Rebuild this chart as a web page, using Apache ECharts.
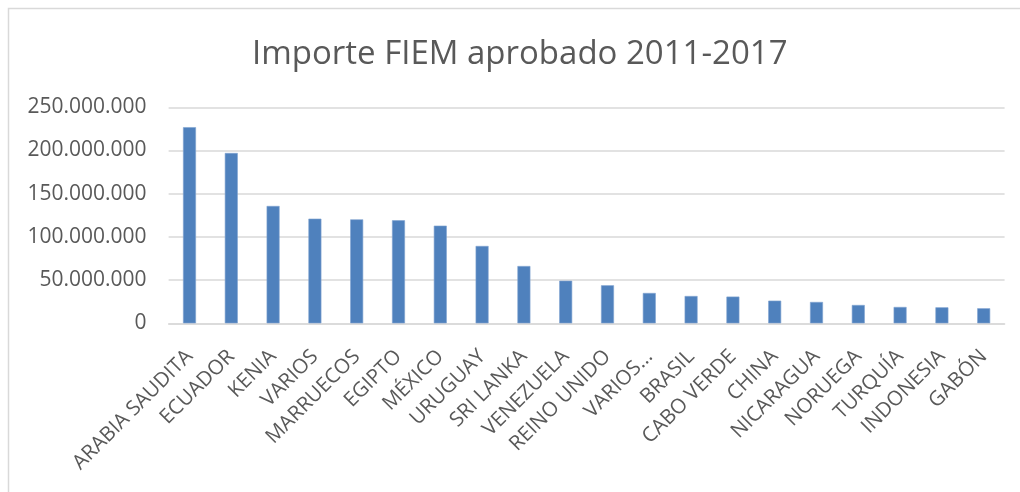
<!DOCTYPE html>
<html>
<head>
<meta charset="utf-8">
<script src="https://cdn.jsdelivr.net/npm/echarts@6/dist/echarts.min.js"></script>
<style>html,body{margin:0;padding:0;background:#fff}#c{width:1020px;height:492px}</style>
</head>
<body>
<div id="c"></div>
<script>
const categories = ["ARABIA SAUDITA","ECUADOR","KENIA","VARIOS","MARRUECOS","EGIPTO","MÉXICO","URUGUAY","SRI LANKA","VENEZUELA","REINO UNIDO","VARIOS…","BRASIL","CABO VERDE","CHINA","NICARAGUA","NORUEGA","TURQUÍA","INDONESIA","GABÓN"];
const values = [227000000,197100000,135800000,121100000,120300000,119200000,113000000,89500000,66300000,49300000,44000000,35100000,31600000,30900000,26200000,24700000,21200000,18900000,18500000,17400000];
const titleText = "Importe FIEM aprobado 2011-2017";

function fmt(v){ return String(v).replace(/\B(?=(\d{3})+(?!\d))/g, "."); }

const chart = echarts.init(document.getElementById('c'), null, {renderer:'canvas'});
chart.setOption({
  animation:false,
  textStyle:{fontFamily:"Open Sans"},
  title:{text:titleText,left:247,top:33,textStyle:{fontFamily:"Open Sans",fontSize:33,fontWeight:'normal',color:'#595959'}},
  graphic:[{type:'rect',shape:{x:8.5,y:8.5,width:1040,height:520},style:{fill:'none',stroke:'#d9d9d9',lineWidth:1.5},silent:true}],
  grid:{left:168.6,right:15.4,top:107.3,bottom:168.7,containLabel:false},
  xAxis:{type:'category',data:categories,
    axisLine:{lineStyle:{color:'#d9d9d9',width:1.5}},axisTick:{show:false},
    axisLabel:{rotate:45,interval:0,fontSize:20.5,color:'#595959',margin:30,fontFamily:"Open Sans"}},
  yAxis:{type:'value',min:0,max:250000000,interval:50000000,
    axisLine:{show:false},axisTick:{show:false},
    splitLine:{lineStyle:{color:'#d9d9d9',width:1.5}},
    axisLabel:{fontSize:21,color:'#595959',margin:22,fontFamily:"Open Sans",formatter:fmt}},
  series:[{type:'bar',data:values,barWidth:'31%',itemStyle:{color:'#4f81bd',borderColor:'#7fa3d0',borderWidth:0.6}}]
});
</script>
</body>
</html>
